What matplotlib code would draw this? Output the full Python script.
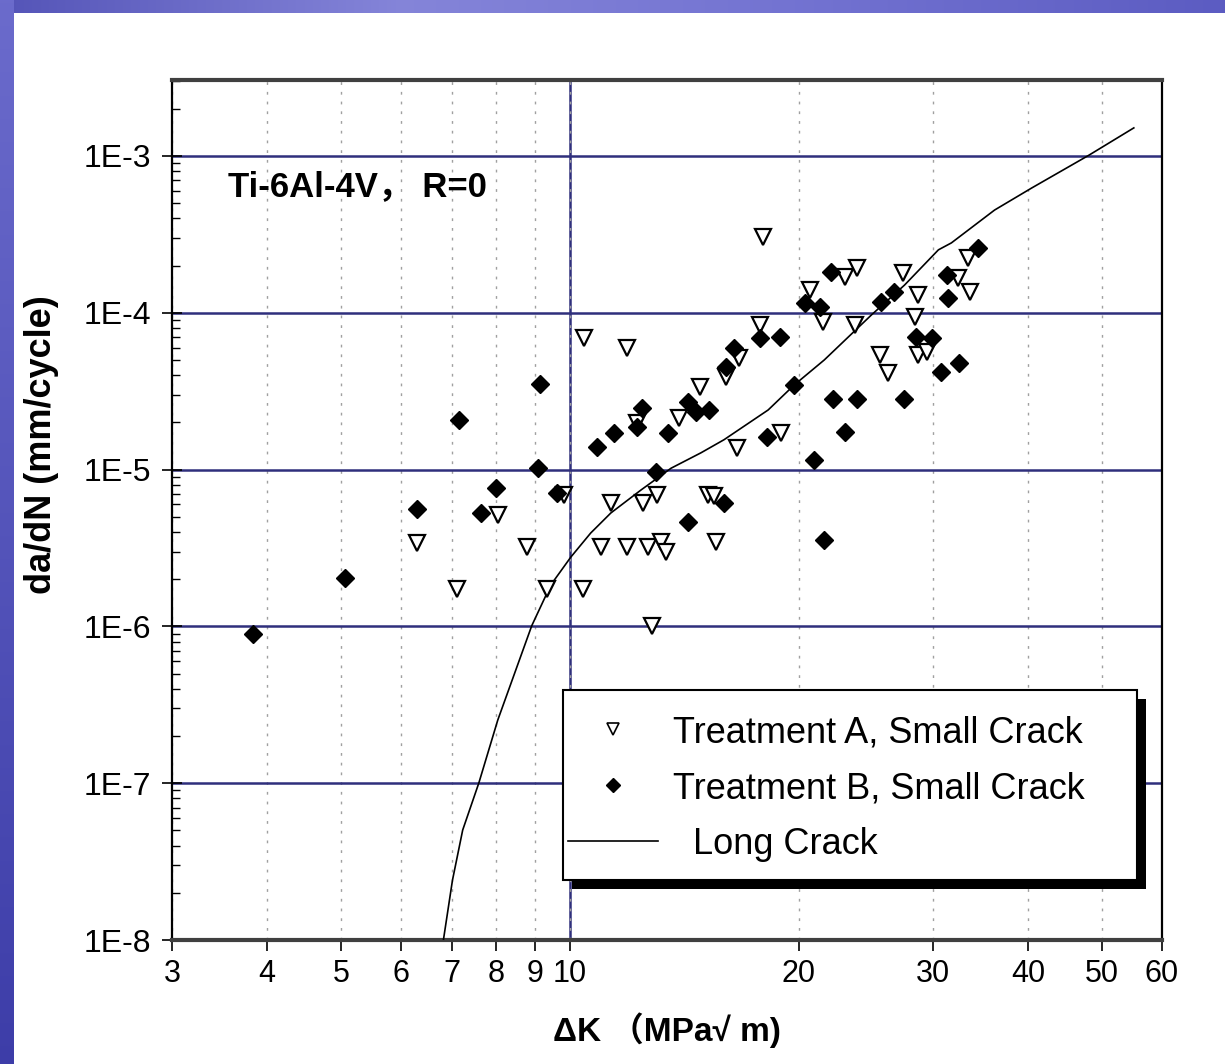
import numpy as np
import matplotlib.pyplot as plt
from matplotlib.lines import Line2D
from matplotlib.patches import Rectangle
from matplotlib.transforms import ScaledTranslation
from matplotlib.ticker import FixedLocator, FixedFormatter, LogLocator, NullFormatter

plt.rcParams['font.family'] = ['Liberation Sans', 'Noto Sans CJK SC', 'DejaVu Sans']

# Treatment A, small crack (open triangles)
a_dk = [6.30, 7.11, 8.04, 8.79, 9.34, 9.82, 10.44, 10.42, 17.93, 11.88,
        20.65, 22.96, 23.86, 27.41, 28.69, 33.38, 32.38, 33.55, 28.39, 21.50,
        23.67, 17.75, 25.53, 26.19, 28.69, 29.42, 16.70, 16.04, 14.84, 13.92,
        12.27, 18.96, 16.57, 11.32, 12.46, 13.01, 15.18, 15.45, 10.98, 11.90,
        12.67, 13.17, 13.38, 15.56, 12.81]
a_rate = [3.42e-6, 1.72e-6, 5.14e-6, 3.23e-6, 1.72e-6, 6.89e-6, 6.88e-5, 1.72e-6, 3.06e-4, 5.94e-5,
          1.40e-4, 1.70e-4, 1.92e-4, 1.79e-4, 1.30e-4, 2.23e-4, 1.66e-4, 1.36e-4, 9.44e-5, 8.77e-5,
          8.36e-5, 8.36e-5, 5.38e-5, 4.11e-5, 5.38e-5, 5.65e-5, 5.13e-5, 3.91e-5, 3.38e-5, 2.12e-5,
          1.97e-5, 1.70e-5, 1.37e-5, 6.10e-6, 6.15e-6, 6.89e-6, 6.89e-6, 6.79e-6, 3.23e-6, 3.23e-6,
          3.23e-6, 3.47e-6, 3.00e-6, 3.47e-6, 1.01e-6]

# Treatment B, small crack (filled diamonds)
b_dk = [3.83, 5.07, 6.29, 7.15, 7.65, 7.99, 9.09, 9.13, 9.61, 22.06,
        20.34, 21.29, 25.66, 26.68, 31.26, 31.42, 34.41, 28.54, 29.87, 30.72,
        32.48, 17.75, 18.86, 16.45, 16.04, 19.70, 22.17, 23.86, 27.46, 14.28,
        14.65, 15.25, 12.43, 12.27, 13.44, 11.43, 10.87, 18.16, 23.01, 20.93,
        12.97, 15.93, 14.28, 21.57]
b_rate = [8.9e-7, 2.03e-6, 5.58e-6, 2.07e-5, 5.26e-6, 7.63e-6, 1.02e-5, 3.52e-5, 7.06e-6, 1.83e-4,
          1.15e-4, 1.09e-4, 1.18e-4, 1.36e-4, 1.74e-4, 1.24e-4, 2.58e-4, 7.04e-5, 6.88e-5, 4.21e-5,
          4.76e-5, 6.88e-5, 7.04e-5, 5.94e-5, 4.53e-5, 3.46e-5, 2.82e-5, 2.82e-5, 2.82e-5, 2.71e-5,
          2.34e-5, 2.40e-5, 2.46e-5, 1.86e-5, 1.70e-5, 1.72e-5, 1.40e-5, 1.62e-5, 1.73e-5, 1.15e-5,
          9.70e-6, 6.10e-6, 4.65e-6, 3.56e-6]

# Long crack curve
long_dk = [6.82, 7.01, 7.23, 7.59, 8.04, 8.49, 8.91, 9.44, 10.03, 10.65,
           11.32, 12.40, 13.58, 14.87, 15.94, 18.22, 19.71, 21.59, 24.90, 27.52,
           30.50, 31.72, 36.15, 40.45, 48.07, 55.09]
long_rate = [1.0e-8, 2.41e-8, 5.03e-8, 1.00e-7, 2.53e-7, 5.27e-7, 1.01e-6, 1.84e-6, 2.77e-6, 3.94e-6,
             5.29e-6, 7.41e-6, 1.02e-5, 1.28e-5, 1.55e-5, 2.40e-5, 3.46e-5, 5.00e-5, 9.68e-5, 1.50e-4,
             2.52e-4, 2.79e-4, 4.52e-4, 6.25e-4, 1.01e-3, 1.51e-3]

x_ticks = [3, 4, 5, 6, 7, 8, 9, 10, 20, 30, 40, 50, 60]
x_labels = ['3', '4', '5', '6', '7', '8', '9', '10', '20', '30', '40', '50', '60']
y_ticks = [1e-8, 1e-7, 1e-6, 1e-5, 1e-4, 1e-3]
y_labels = ['1E-8', '1E-7', '1E-6', '1E-5', '1E-4', '1E-3']

fig = plt.figure(figsize=(12.25, 10.64), dpi=100)

# slide background: blue strips along top and left
H, W = 1064, 1225
bgimg = np.ones((H, W, 3))
xs = np.arange(W)
top = np.stack([np.interp(xs, [0, 400, 800, W], c) for c in
                ([0.33, 0.52, 0.45, 0.36], [0.33, 0.52, 0.45, 0.36], [0.72, 0.85, 0.82, 0.76])], axis=1)
bgimg[:13, :, :] = top[None, :, :]
ys = np.arange(H)
left = np.stack([np.interp(ys, [0, H], c) for c in ([0.42, 0.24], [0.42, 0.24], [0.80, 0.66])], axis=1)
bgimg[:, :14, :] = left[:, None, :]
bg = fig.add_axes([0, 0, 1, 1], zorder=-10)
bg.imshow(bgimg, aspect='auto', extent=(0, 1, 0, 1))
bg.axis('off')

ax = fig.add_axes([0.1404, 0.1165, 0.8082, 0.8083])
ax.set_xscale('log')
ax.set_yscale('log')
ax.set_xlim(3, 60)
ax.set_ylim(1e-8, 3.05e-3)

navy = '#2f2f7c'
ax.grid(axis='x', which='major', color='#a0a0a0', linestyle=(0, (2, 5)), linewidth=1)
ax.grid(axis='y', which='major', color=navy, linestyle='-', linewidth=1.8)
ax.axvline(10, color=navy, linewidth=1.8, zorder=1)

ax.plot(long_dk, long_rate, color='black', linewidth=1.2, zorder=3)
ax.plot(a_dk, a_rate, linestyle='none', marker='v', markersize=12, markerfacecolor='white',
        markeredgecolor='black', markeredgewidth=1.6, zorder=3)
ax.plot(b_dk, b_rate, linestyle='none', marker='D', markersize=9, markerfacecolor='black',
        markeredgecolor='black', zorder=3)

ax.xaxis.set_major_locator(FixedLocator(x_ticks))
ax.xaxis.set_major_formatter(FixedFormatter(x_labels))
ax.xaxis.set_minor_locator(FixedLocator([]))
ax.yaxis.set_major_locator(FixedLocator(y_ticks))
ax.yaxis.set_major_formatter(FixedFormatter(y_labels))
ax.yaxis.set_minor_locator(LogLocator(base=10, subs=np.arange(2, 10)))
ax.yaxis.set_minor_formatter(NullFormatter())
ax.tick_params(axis='x', which='major', direction='out', length=8, width=1.2, pad=6, labelsize=22)
ax.tick_params(axis='y', which='major', direction='inout', length=14, width=1.2, pad=8, labelsize=23)
ax.tick_params(axis='y', which='minor', direction='in', length=6, width=1)

for s in ['left', 'right']:
    ax.spines[s].set_linewidth(1.6)
    ax.spines[s].set_color('black')
for s in ['top', 'bottom']:
    ax.spines[s].set_linewidth(3)
    ax.spines[s].set_color('#404040')

ax.text(0.0566, 0.8756, 'Ti-6Al-4V， R=0', transform=ax.transAxes, fontsize=25,
        fontweight='bold', va='center', ha='left')

fig.text(0.034, 1 - 445 / 1064, 'da/dN (mm/cycle)', rotation=90, fontsize=26,
         fontweight='bold', ha='center', va='center')
fig.text(667 / 1225, 1 - 1030 / 1064, 'ΔK （MPa√ m)', fontsize=24,
         fontweight='bold', ha='center', va='center')

# legend box with a hard black drop shadow
box_x0, box_y0, box_w, box_h = 0.3949, 0.0698, 0.5798, 0.2209
shift = ScaledTranslation(9 / 100, -9 / 100, fig.dpi_scale_trans)
ax.add_patch(Rectangle((box_x0, box_y0), box_w, box_h, transform=ax.transAxes + shift,
                       facecolor='black', edgecolor='none', zorder=5, clip_on=False))
ax.add_patch(Rectangle((box_x0, box_y0), box_w, box_h, transform=ax.transAxes,
                       facecolor='white', edgecolor='black', linewidth=1.5, zorder=5.5,
                       clip_on=False))

handles = [
    Line2D([], [], linestyle='none', marker='v', markersize=8, markerfacecolor='white',
           markeredgecolor='black', markeredgewidth=1.2),
    Line2D([], [], linestyle='none', marker='D', markersize=7, color='black'),
    Line2D([], [], color='black', linewidth=1.2),
]
labels = ['Treatment A, Small Crack', 'Treatment B, Small Crack', '  Long Crack']
leg = ax.legend(handles, labels, loc='upper left', bbox_to_anchor=(0.4, 0.2616),
                borderaxespad=0, borderpad=0, fontsize=26, frameon=False,
                handlelength=2.5, handletextpad=0.42, labelspacing=0.58)
leg.set_zorder(6)

fig.savefig('out.png', dpi=100)
